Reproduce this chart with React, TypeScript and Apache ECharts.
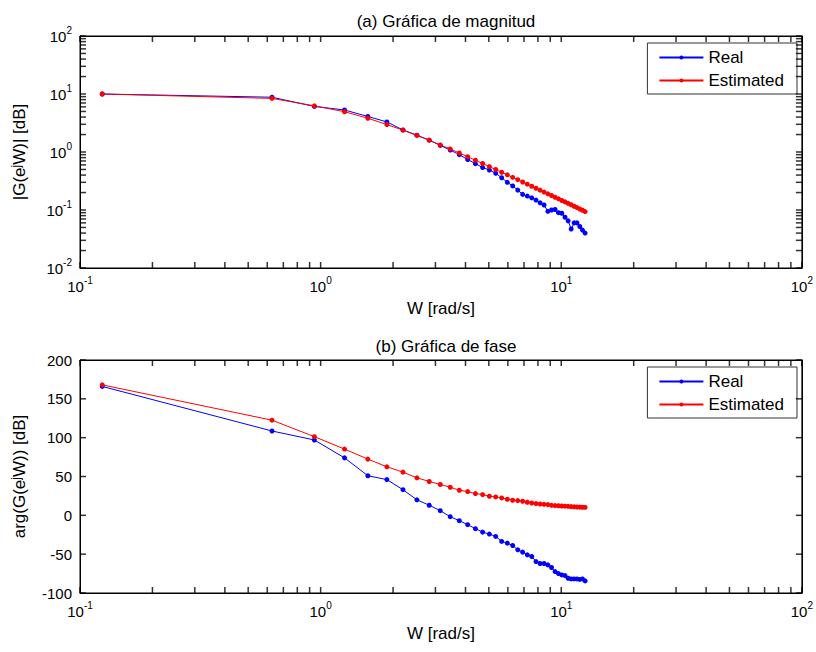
import React, { useEffect, useRef } from "react";
import * as echarts from "echarts";

// Frequencies (rad/s)
const W = [
  0.1237, 0.628, 0.942, 1.257, 1.571, 1.885, 2.199, 2.513, 2.827, 3.142,
  3.456, 3.77, 4.084, 4.398, 4.712, 5.027, 5.341, 5.655, 5.969, 6.283,
  6.597, 6.912, 7.226, 7.54, 7.854, 8.168, 8.482, 8.796, 9.111, 9.425,
  9.739, 10.053, 10.367, 10.681, 10.996, 11.31, 11.624, 11.938, 12.252, 12.566,
];

// Magnitude
const MAG_REAL = [
  10, 8.8, 6.1, 5.3, 4.1, 3.3, 2.4, 1.95, 1.6, 1.3,
  1.08, 0.9, 0.74, 0.63, 0.54, 0.49, 0.43, 0.36, 0.3, 0.26,
  0.22, 0.186, 0.174, 0.162, 0.148, 0.133, 0.122, 0.095, 0.1, 0.102,
  0.09, 0.088, 0.075, 0.065, 0.047, 0.06, 0.06, 0.052, 0.045, 0.04,
];
const MAG_EST = [
  10, 8.4, 6.25, 4.95, 3.82, 2.97, 2.38, 1.93, 1.6, 1.32,
  1.13, 0.96, 0.83, 0.72, 0.633, 0.56, 0.5, 0.448, 0.404, 0.366,
  0.333, 0.304, 0.279, 0.257, 0.237, 0.22, 0.204, 0.19, 0.178, 0.166,
  0.156, 0.146, 0.138, 0.13, 0.123, 0.116, 0.11, 0.104, 0.099, 0.094,
];

// Phase
const PHASE_REAL = [
  166, 108.6, 97, 74, 51, 46, 33, 20, 13, 6,
  -1.7, -6.9, -12, -17.2, -21.6, -24.1, -27.2, -33.6, -35.8, -38.8,
  -44.4, -47.4, -50.9, -53, -59.5, -62, -62, -63.8, -67.2, -72.4,
  -75, -76.7, -77.6, -81, -81.9, -81.9, -81.9, -82.5, -81.9, -84.4,
];
const PHASE_EST = [
  168, 122.5, 101.3, 85.3, 72.4, 62.5, 55.6, 48.3, 43.6, 39.7,
  36.2, 32.3, 30.6, 28.0, 26.7, 24.6, 23.7, 22.4, 20.7, 19.4,
  19.0, 18.1, 16.8, 15.9, 15.1, 14.6, 14.2, 13.8, 12.9, 12.5,
  12.3, 12.0, 11.8, 11.6, 11.2, 10.9, 10.7, 10.6, 10.4, 10.3,
];

// Tick values
const X_TICKS = [
  0.1, 0.2, 0.3, 0.4, 0.5, 0.6, 0.7, 0.8, 0.9,
  1, 2, 3, 4, 5, 6, 7, 8, 9,
  10, 20, 30, 40, 50, 60, 70, 80, 90, 100,
];
const Y_MAG_TICKS = [
  0.01, 0.02, 0.03, 0.04, 0.05, 0.06, 0.07, 0.08, 0.09,
  0.1, 0.2, 0.3, 0.4, 0.5, 0.6, 0.7, 0.8, 0.9,
  1, 2, 3, 4, 5, 6, 7, 8, 9,
  10, 20, 30, 40, 50, 60, 70, 80, 90, 100,
];
const Y_PHASE_TICKS = [-100, -50, 0, 50, 100, 150, 200];

const FONT = "'Liberation Sans', Arial, sans-serif";
const TXT = "#000";
const TICK = 6;

const pow10Label = {
  formatter: (v: number) => `{b|10}{e|${Math.round(Math.log10(v))}}`,
  rich: {
    b: { fontSize: 15, lineHeight: 22, fontFamily: FONT, color: TXT, verticalAlign: "middle" },
    e: { fontSize: 10, lineHeight: 10, fontFamily: FONT, color: TXT, verticalAlign: "top" },
  },
};

const axisLine = { show: true, onZero: false, lineStyle: { color: "#000", width: 1 } };

function logX(gridIndex: number, position: "bottom" | "top", withLabels: boolean) {
  return {
    gridIndex,
    type: "log",
    logBase: 10,
    min: 0.1,
    max: 100,
    position,
    axisLine,
    axisTick: { show: false },
    splitLine: { show: false },
    axisLabel: withLabels ? { ...pow10Label, margin: 7 } : { show: false },
    name: withLabels ? "W [rad/s]" : "",
    nameLocation: "middle",
    nameGap: 32,
    nameTextStyle: { fontSize: 17, fontFamily: FONT, color: TXT },
  };
}

function legend(top: number) {
  return {
    orient: "vertical",
    right: 19,
    top,
    data: ["Real", "Estimated"],
    itemWidth: 44,
    itemHeight: 5,
    itemGap: 6,
    padding: [6, 13, 5, 11],
    borderColor: "#333",
    borderWidth: 1,
    backgroundColor: "#fff",
    textStyle: { fontSize: 17, fontFamily: FONT, color: TXT },
  };
}

const yName = (pre: string, post: string) => `{n|${pre}}{s|j}{n|${post}}`;
const yNameStyle = {
  fontSize: 17,
  fontFamily: FONT,
  color: TXT,
  rich: {
    n: { fontSize: 17, fontFamily: FONT, color: TXT },
    s: { fontSize: 12, fontFamily: FONT, color: TXT, padding: [0, 0, 6, 0] },
  },
};

// tick marks drawn as thin rect symbols through the axes' own scales
function tickSeries(xi: number, yi: number, data: number[][], vertical: boolean, dir: number) {
  return {
    type: "scatter",
    xAxisIndex: xi,
    yAxisIndex: yi,
    silent: true,
    clip: false,
    data,
    symbol: "rect",
    symbolSize: vertical ? [1.5, TICK] : [TICK, 1.5],
    symbolOffset: vertical ? [0, (dir * TICK) / 2] : [(dir * TICK) / 2, 0],
    itemStyle: { color: "#000" },
    z: 6,
  };
}

export default function App() {
  const ref = useRef<HTMLDivElement>(null);
  useEffect(() => {
    if (!ref.current) return;
    const chart = echarts.init(ref.current, undefined, { renderer: "svg" });
    const realMag = W.map((w, i) => [w, MAG_REAL[i]]);
    const estMag = W.map((w, i) => [w, MAG_EST[i]]);
    const realPh = W.map((w, i) => [w, PHASE_REAL[i]]);
    const estPh = W.map((w, i) => [w, PHASE_EST[i]]);
    const lineSeries = (name: string, color: string, xi: number, yi: number, data: number[][]) => ({
      name,
      type: "line",
      xAxisIndex: xi,
      yAxisIndex: yi,
      data,
      symbol: "circle",
      symbolSize: 5,
      showSymbol: true,
      color,
      lineStyle: { color, width: 1 },
      itemStyle: { color },
      z: 3,
    });
    chart.setOption({
      animation: false,
      title: [
        {
          text: "(a) Gráfica de magnitud",
          left: 441,
          textAlign: "center",
          top: 8,
          textStyle: { fontSize: 17, fontWeight: "normal", fontFamily: FONT, color: TXT },
        },
        {
          text: "(b) Gráfica de fase",
          left: 441,
          textAlign: "center",
          top: 333,
          textStyle: { fontSize: 17, fontWeight: "normal", fontFamily: FONT, color: TXT },
        },
      ],
      legend: [legend(43), legend(367)],
      grid: [
        { left: 80, top: 36, width: 722, height: 232, show: true, borderColor: "#000", borderWidth: 1 },
        { left: 80, top: 360, width: 722, height: 233, show: true, borderColor: "#000", borderWidth: 1 },
      ],
      xAxis: [logX(0, "bottom", true), logX(0, "top", false), logX(1, "bottom", true), logX(1, "top", false)],
      yAxis: [
        {
          gridIndex: 0,
          type: "log",
          logBase: 10,
          min: 0.01,
          max: 100,
          position: "left",
          axisLine,
          axisTick: { show: false },
          splitLine: { show: false },
          axisLabel: { ...pow10Label, margin: 8 },
          name: yName("|G(e", "W)| [dB]"),
          nameLocation: "middle",
          nameRotate: 90,
          nameGap: 52,
          nameTextStyle: yNameStyle,
        },
        {
          gridIndex: 0,
          type: "log",
          logBase: 10,
          min: 0.01,
          max: 100,
          position: "right",
          axisLine,
          axisTick: { show: false },
          splitLine: { show: false },
          axisLabel: { show: false },
        },
        {
          gridIndex: 1,
          type: "value",
          min: -100,
          max: 200,
          interval: 50,
          position: "left",
          axisLine,
          axisTick: { show: false },
          splitLine: { show: false },
          axisLabel: { fontSize: 15, fontFamily: FONT, color: TXT, margin: 8 },
          name: yName("arg(G(e", "W)) [dB]"),
          nameLocation: "middle",
          nameRotate: 90,
          nameGap: 52,
          nameTextStyle: yNameStyle,
        },
        {
          gridIndex: 1,
          type: "value",
          min: -100,
          max: 200,
          interval: 50,
          position: "right",
          axisLine,
          axisTick: { show: false },
          splitLine: { show: false },
          axisLabel: { show: false },
        },
      ],
      series: [
        lineSeries("Real", "#0000ff", 0, 0, realMag),
        lineSeries("Estimated", "#ff0000", 0, 0, estMag),
        lineSeries("Real", "#0000ff", 2, 2, realPh),
        lineSeries("Estimated", "#ff0000", 2, 2, estPh),
        // magnitude plot ticks
        tickSeries(0, 0, X_TICKS.map((v) => [v, 0.01]), true, -1),
        tickSeries(0, 0, X_TICKS.map((v) => [v, 100]), true, 1),
        tickSeries(0, 0, Y_MAG_TICKS.map((v) => [0.1, v]), false, 1),
        tickSeries(0, 0, Y_MAG_TICKS.map((v) => [100, v]), false, -1),
        // phase plot ticks
        tickSeries(2, 2, X_TICKS.map((v) => [v, -100]), true, -1),
        tickSeries(2, 2, X_TICKS.map((v) => [v, 200]), true, 1),
        tickSeries(2, 2, Y_PHASE_TICKS.map((v) => [0.1, v]), false, 1),
        tickSeries(2, 2, Y_PHASE_TICKS.map((v) => [100, v]), false, -1),
      ],
    });
    return () => chart.dispose();
  }, []);
  return (
    <div
      ref={ref}
      style={{ position: "fixed", left: 0, top: 0, width: 816, height: 652, background: "#fff" }}
    />
  );
}
